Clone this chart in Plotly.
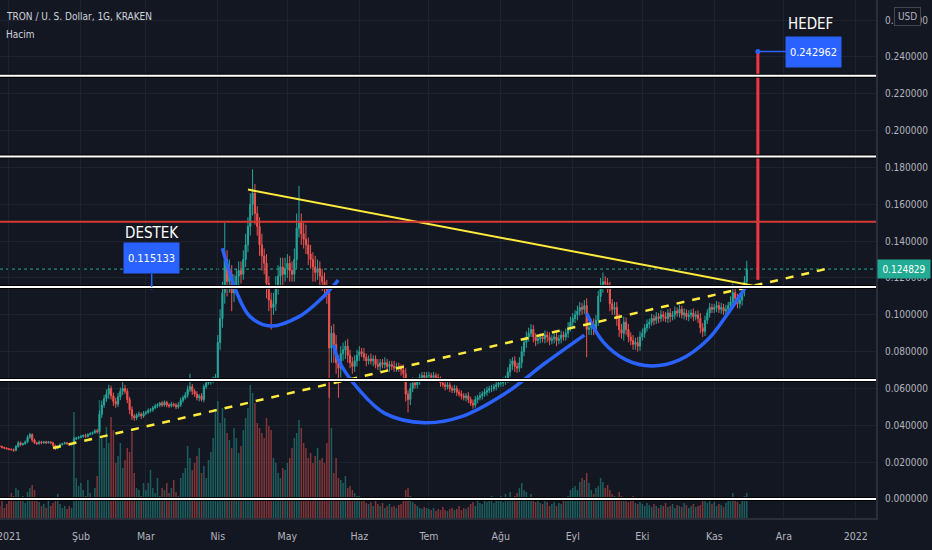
import pandas as pd
import plotly.graph_objects as go

# daily closes in thousandths of a USD, TRX/USD 2020-12-28 .. 2021-11-15
dec20_close = [28.5, 28.0, 27.6, 27.2]
jan_close = [27.0, 26.8, 26.4, 28.5, 30.5, 29.5, 30.0, 31.0, 33.5, 35.0, 32.0, 30.5, 30.0, 31.0, 30.5, 31.0,
             30.5, 31.0, 30.5, 29.0, 27.5, 28.5, 29.5, 30.0, 30.5, 30.0, 29.5, 30.0, 32.5, 33.0, 33.5]
feb_close = [34.0, 34.5, 34.0, 35.0, 35.5, 36.0, 37.0, 36.5, 46.0, 51.0, 54.5, 57.0, 60.0, 56.0, 53.0, 51.5,
             55.5, 58.5, 60.0, 58.5, 54.0, 48.5, 45.0, 44.0, 45.5, 46.0, 45.0, 46.5]
mar_close = [47.0, 48.0, 48.5, 49.5, 50.5, 51.0, 52.0, 51.0, 52.5, 51.0, 50.5, 51.5, 51.0, 50.0, 51.0, 53.5,
             55.0, 56.5, 59.5, 61.0, 58.5, 57.0, 55.0, 56.0, 54.0, 61.0, 63.0, 63.5, 64.0, 65.0, 66.0]
apr_close = [85, 98, 112, 130, 118, 122, 112, 116, 121, 124, 122, 130, 138, 148, 160, 166, 155, 148, 138, 132,
             128, 117, 108, 104, 106, 116, 121, 126, 122, 125]
may_close = [128, 124, 122, 130, 147, 150, 144, 141, 138, 133, 130, 126, 123, 125, 121, 118, 115, 112, 82, 90,
             84, 74, 71, 79, 81, 83, 78, 74, 72, 75, 78]
jun_close = [80, 79, 77, 75, 76, 75, 76, 73, 72, 74, 73, 74, 72, 73, 72, 71, 72, 71, 70, 68, 57, 54, 60, 63,
             62, 64, 66, 67, 66, 67]
jul_close = [67, 66, 67, 66, 65, 63, 62, 61, 62, 60, 59, 60, 58, 57, 56, 55, 56, 54, 52, 51, 54, 55, 56, 57,
             58, 59, 60, 60, 61, 62, 63]
aug_close = [63, 64, 65, 69, 73, 75, 72, 71, 74, 80, 85, 88, 90, 92, 88, 86, 87, 88, 87, 89, 88, 86, 87, 88,
             86, 87, 89, 88, 90, 93, 96]
sep_close = [98, 100, 102, 104, 103, 105, 92, 93, 95, 92, 97, 110, 116, 118, 117, 115, 106, 103, 104, 98, 92,
             90, 96, 92, 88, 86, 84, 85, 83, 88]
oct_close = [90, 93, 95, 96, 98, 97, 99, 98, 100, 99, 98, 101, 99, 100, 102, 101, 103, 100, 101, 99, 100, 101,
             99, 100, 98, 93, 91, 97, 101, 104, 103]
nov_close = [104, 105, 103, 104, 102, 103, 105, 107, 112, 109, 106, 108, 113, 118, 124.829]
first_open = 28.8

# upper / lower wick lengths (thousandths)
dec20_up = [0.6, 0.5, 0.4, 0.5]
dec20_dn = [0.5, 0.6, 0.5, 0.4]
jan_up = [0.5, 0.4, 0.6, 0.8, 1.0, 0.7, 0.6, 0.8, 1.2, 1.0, 0.6, 0.8, 0.5, 0.7, 0.6, 0.5, 0.6, 0.5, 0.4, 0.5,
          0.6, 0.5, 0.7, 0.5, 0.6, 0.4, 0.5, 0.6, 1.2, 0.8, 0.7]
jan_dn = [0.5, 0.6, 0.8, 0.5, 0.6, 0.9, 0.5, 0.6, 0.7, 0.8, 1.2, 0.7, 0.6, 0.5, 0.8, 0.5, 0.6, 0.5, 0.7, 0.8,
          0.9, 0.5, 0.6, 0.5, 0.4, 0.6, 0.7, 0.5, 0.6, 0.5, 0.6]
feb_up = [0.8, 0.6, 0.9, 0.7, 0.8, 0.6, 0.9, 1.0, 2.0, 2.5, 2.0, 2.5, 2.0, 1.5, 1.8, 2.0, 2.0, 2.0, 4.0, 2.0,
          1.5, 1.5, 1.8, 1.2, 1.0, 1.5, 1.0, 1.2]
feb_dn = [0.6, 0.7, 0.8, 0.6, 0.5, 0.7, 0.6, 0.9, 1.0, 2.0, 1.5, 1.8, 2.5, 2.0, 2.5, 2.0, 1.5, 1.8, 2.0, 1.5,
          2.0, 2.5, 2.0, 1.5, 1.2, 1.0, 1.5, 1.0]
mar_up = [1.0, 1.2, 0.8, 1.0, 1.2, 1.0, 0.8, 1.2, 1.0, 0.8, 1.0, 1.2, 0.8, 1.0, 1.5, 1.5, 1.2, 1.5, 2.0, 7.0,
          1.5, 1.2, 1.5, 1.0, 1.5, 1.2, 1.0, 1.5, 1.2, 1.5, 2.0]
mar_dn = [1.0, 0.8, 1.0, 1.2, 0.8, 1.0, 1.2, 1.0, 0.8, 1.2, 1.0, 0.8, 1.0, 1.2, 1.0, 1.0, 1.2, 1.0, 1.5, 1.5,
          2.0, 1.5, 1.5, 2.0, 1.0, 1.5, 1.2, 1.0, 1.5, 1.2, 1.0]
apr_up = [4, 5, 6, 20, 5, 8, 5, 6, 4, 5, 5, 5, 6, 5, 6, 13, 5, 4, 5, 6, 4, 5, 4, 4, 6, 5, 6, 5, 5, 6]
apr_dn = [2, 4, 5, 6, 8, 6, 10, 5, 4, 5, 5, 3, 4, 4, 5, 6, 6, 5, 6, 8, 6, 8, 6, 12, 4, 4, 5, 5, 6, 4]
may_up = [5, 4, 5, 6, 8, 20, 5, 6, 8, 4, 5, 4, 6, 5, 4, 4, 5, 4, 3, 4, 5, 5, 4, 4, 4, 3, 4, 3, 3, 3, 3]
may_dn = [5, 6, 4, 4, 5, 5, 6, 5, 5, 6, 5, 8, 5, 4, 6, 5, 4, 6, 27, 8, 10, 6, 16, 5, 4, 5, 4, 3, 4, 3, 3]
jun_up = [3, 2, 3, 2, 2, 3, 2, 2, 3, 2, 2, 3, 2, 2, 2, 3, 2, 2, 2, 3, 3, 2, 3, 3, 2, 2, 2, 2, 2, 2]
jun_dn = [3, 2, 2, 3, 2, 2, 3, 2, 2, 3, 2, 2, 2, 3, 2, 2, 2, 2, 3, 4, 4, 7, 3, 2, 2, 2, 2, 2, 2, 2]
jul_up = [2, 1.5, 2, 1.5, 2, 1.5, 2, 1.5, 2, 1.5, 1.5, 2, 1.5, 1.5, 2, 1.5, 1.5, 2, 1.5, 2, 2, 1.5, 2, 1.5,
          2, 2, 1.5, 2, 1.5, 2, 2]
jul_dn = [1.5, 2, 1.5, 2, 1.5, 2, 1.5, 2, 1.5, 2, 1.5, 1.5, 2, 1.5, 2, 1.5, 2, 2, 1.5, 2, 1.5, 2, 1.5, 2,
          1.5, 2, 1.5, 2, 1.5, 2, 1.5]
aug_up = [2, 2, 2, 2.5, 3, 2, 2.5, 2, 3, 3, 2.5, 3, 3, 3, 2.5, 2, 2.5, 2, 2, 2.5, 2, 2.5, 2, 2, 2.5, 2, 2.5,
          2, 2.5, 3, 3]
aug_dn = [2, 2, 2, 2, 2.5, 3, 3, 2.5, 2, 3, 2.5, 3, 2.5, 2, 3, 3, 2, 2.5, 2, 2.5, 3, 2.5, 2, 2.5, 3, 2, 2.5,
          2, 2, 2.5, 2]
sep_up = [3, 2.5, 3, 3, 2.5, 3, 4, 3, 2.5, 3, 3, 3, 4, 5, 3, 3, 3, 2.5, 3, 3, 2.5, 3, 3, 2.5, 3, 2.5, 3, 2.5,
          3, 3]
sep_dn = [3, 2.5, 3, 2.5, 3, 2.5, 15, 3, 4, 3, 2.5, 3, 3, 4, 3, 3, 4, 3, 3, 4, 4, 3, 4, 3, 3, 2.5, 3, 3, 3,
          2.5]
oct_up = [2.5, 2, 2.5, 2, 2.5, 2, 2.5, 2, 2.5, 2, 2.5, 2, 2.5, 2, 2.5, 2, 2.5, 2, 2.5, 2, 2.5, 2, 2.5, 2,
          2.5, 3, 2.5, 2.5, 2, 2.5, 2]
oct_dn = [2, 2.5, 2, 2.5, 2, 2.5, 2, 2.5, 2, 2.5, 2, 2.5, 3, 2, 2.5, 2, 2.5, 2, 2.5, 2, 2.5, 2, 2.5, 2, 2.5,
          3, 3, 2.5, 2, 2.5, 2]
nov_up = [2, 2.5, 2, 2.5, 2, 2.5, 2, 3, 5, 3, 2.5, 3, 3, 3, 4.5]
nov_dn = [2, 2.5, 2, 2.5, 2, 2.5, 2, 2.5, 3, 3, 2.5, 2.5, 3, 3, 3]

# volume (relative units)
dec20_vol = [12, 18, 10, 14]
jan_vol = [20, 25, 22, 30, 28, 18, 22, 15, 26, 30, 33, 28, 20, 16, 12, 14, 10, 18, 12, 15, 20, 24, 14, 10,
           12, 9, 12, 10, 106, 40, 32]
feb_vol = [35, 28, 22, 38, 25, 20, 30, 42, 118, 80, 70, 91, 75, 101, 88, 55, 62, 75, 50, 58, 70, 66, 86, 45,
           30, 28, 22, 35]
mar_vol = [28, 35, 48, 30, 25, 40, 22, 30, 28, 35, 25, 30, 38, 26, 22, 40, 45, 50, 72, 60, 48, 55, 62, 70,
           45, 52, 40, 58, 66, 80, 108]
apr_vol = [117, 95, 110, 100, 85, 78, 70, 90, 80, 65, 72, 88, 100, 110, 133, 125, 115, 95, 90, 85, 80, 100,
           92, 88, 60, 55, 45, 40, 50, 48]
may_vol = [55, 60, 70, 80, 85, 98, 90, 75, 70, 60, 65, 55, 62, 70, 58, 60, 55, 75, 140, 90, 45, 60, 40, 38,
           35, 42, 30, 32, 28, 25, 22]
jun_vol = [22, 18, 20, 15, 14, 16, 12, 18, 14, 12, 15, 10, 12, 14, 11, 12, 10, 13, 14, 18, 28, 30, 22, 16,
           14, 12, 10, 9, 11, 10]
jul_vol = [9, 8, 10, 7, 9, 8, 11, 8, 7, 9, 10, 8, 9, 12, 8, 10, 9, 11, 14, 16, 12, 18, 15, 14, 20, 16, 18,
           22, 15, 20, 18]
aug_vol = [22, 16, 24, 20, 26, 18, 22, 25, 30, 35, 28, 26, 20, 24, 18, 16, 20, 15, 14, 18, 16, 12, 14, 16,
           12, 15, 14, 18, 20, 22, 28]
sep_vol = [30, 32, 28, 36, 40, 38, 45, 35, 28, 24, 30, 32, 40, 36, 30, 33, 28, 24, 22, 20, 26, 22, 18, 20,
           16, 18, 22, 15, 14, 16]
oct_vol = [14, 12, 15, 13, 11, 14, 12, 10, 13, 12, 15, 11, 12, 14, 10, 13, 12, 11, 15, 13, 10, 12, 14, 11,
           12, 13, 18, 20, 15, 17, 14]
nov_vol = [16, 12, 14, 13, 11, 15, 18, 20, 25, 18, 16, 14, 20, 22, 25]

# drawn levels and lines
white_levels = [0.2298, 0.186, 0.115133, 0.0646, 0.0]
red_level = 0.1505
last_price = 0.124829
resist_x = ["2021-04-14", "2021-11-23"]
resist_y = [0.168, 0.1146]
support_x = ["2021-01-20", "2021-12-21"]
support_y = [0.0277, 0.1254]
arc1_x = ["2021-04-03", "2021-04-09", "2021-04-14 22:00", "2021-04-24", "2021-05-06", "2021-05-15", "2021-05-22 22:00"]
arc1_y = [0.1361, 0.1125, 0.0990, 0.0939, 0.0990, 0.1080, 0.1189]
arc2_x = ["2021-05-21", "2021-05-23", "2021-06-01", "2021-06-12", "2021-06-29", "2021-07-15", "2021-08-03",
          "2021-08-20", "2021-09-06"]
arc2_y = [0.0836, 0.0755, 0.0591, 0.0465, 0.0414, 0.0447, 0.0574, 0.0737, 0.0890]
arc3_x = ["2021-09-07", "2021-09-14", "2021-09-24", "2021-10-05", "2021-10-17", "2021-10-29", "2021-11-07",
          "2021-11-15"]
arc3_y = [0.1008, 0.0854, 0.0755, 0.0722, 0.0755, 0.0863, 0.1010, 0.1162]
target_x = "2021-11-19 19:00"
target_low = 0.119
target_price = 0.242962
support_label_x = "2021-03-03 12:00"
support_price = 0.115133

month_ticks = ["2021-01-01", "2021-02-01", "2021-03-01", "2021-04-01", "2021-05-01", "2021-06-01", "2021-07-01",
               "2021-08-01", "2021-09-01", "2021-10-01", "2021-11-01", "2021-12-01", "2022-01-01"]
month_labels = ["2021", "Şub", "Mar", "Nis", "May", "Haz", "Tem", "Ağu", "Eyl", "Eki", "Kas", "Ara", "2022"]
price_ticks = [i * 0.02 for i in range(14)]

BG = '#131722'
GRID = '#1e222d'
TXT = '#b2b5be'
UP = '#26a69a'
DOWN = '#ef5350'
BLUE = '#2962ff'
FONT = 'DejaVu Sans Condensed, DejaVu Sans, sans-serif'

closes = (dec20_close + jan_close + feb_close + mar_close + apr_close + may_close + jun_close + jul_close
          + aug_close + sep_close + oct_close + nov_close)
ups = dec20_up + jan_up + feb_up + mar_up + apr_up + may_up + jun_up + jul_up + aug_up + sep_up + oct_up + nov_up
dns = dec20_dn + jan_dn + feb_dn + mar_dn + apr_dn + may_dn + jun_dn + jul_dn + aug_dn + sep_dn + oct_dn + nov_dn
vols = (dec20_vol + jan_vol + feb_vol + mar_vol + apr_vol + may_vol + jun_vol + jul_vol + aug_vol + sep_vol
        + oct_vol + nov_vol)

dates = pd.date_range("2020-12-28", periods=len(closes), freq="D")
opens = [first_open] + closes[:-1]
o = [v / 1000 for v in opens]
c = [v / 1000 for v in closes]
h = [(max(a, b) + u) / 1000 for a, b, u in zip(opens, closes, ups)]
l = [(min(a, b) - d) / 1000 for a, b, d in zip(opens, closes, dns)]
volColors = ['rgba(38,166,154,0.5)' if cc >= oo else 'rgba(239,83,80,0.5)' for oo, cc in zip(opens, closes)]

traces = []
traces.append(go.Bar(x=dates, y=vols, marker=dict(color=volColors, line=dict(width=0)),
                     yaxis='y', hoverinfo='skip', showlegend=False))
traces.append(go.Candlestick(x=dates, open=o, high=h, low=l, close=c, yaxis='y2',
                             increasing=dict(line=dict(color=UP, width=1), fillcolor=UP),
                             decreasing=dict(line=dict(color=DOWN, width=1), fillcolor=DOWN),
                             hoverinfo='skip', showlegend=False))
for ax, ay in [(arc1_x, arc1_y), (arc2_x, arc2_y), (arc3_x, arc3_y)]:
    traces.append(go.Scatter(x=ax, y=ay, mode='lines', line=dict(color=BLUE, width=3.5, shape='spline'),
                             yaxis='y2', hoverinfo='skip', showlegend=False))
traces.append(go.Scatter(x=resist_x, y=resist_y, mode='lines', line=dict(color='#ffeb3b', width=2),
                         yaxis='y2', hoverinfo='skip', showlegend=False))
traces.append(go.Scatter(x=support_x, y=support_y, mode='lines',
                         line=dict(color='#ffeb3b', width=2.5, dash='8px,8px'),
                         yaxis='y2', hoverinfo='skip', showlegend=False))
traces.append(go.Scatter(x=[target_x, target_x], y=[target_low, target_price], mode='lines',
                         line=dict(color='#f23645', width=3), yaxis='y2', hoverinfo='skip', showlegend=False))
traces.append(go.Scatter(x=[support_label_x, target_x], y=[support_price, target_price], mode='markers',
                         marker=dict(color=BLUE, size=5), yaxis='y2', hoverinfo='skip', showlegend=False))

shapes = []
for lv in white_levels:
    shapes.append(dict(type='line', xref='paper', x0=0, x1=1, yref='y2', y0=lv, y1=lv,
                       line=dict(color='black', width=4), layer='above'))
    shapes.append(dict(type='line', xref='paper', x0=0, x1=1, yref='y2', y0=lv, y1=lv,
                       line=dict(color='white', width=2), layer='above'))
shapes.append(dict(type='line', xref='paper', x0=0, x1=1, yref='y2', y0=red_level, y1=red_level,
                   line=dict(color='#d63a34', width=2), layer='above'))
shapes.append(dict(type='line', xref='paper', x0=0, x1=1, yref='y2', y0=last_price, y1=last_price,
                   line=dict(color=UP, width=1, dash='dot'), layer='below'))

annotations = [
    dict(text='TRON / U. S. Dollar, 1G, KRAKEN', xref='paper', yref='paper', x=0, y=1, xanchor='left',
         yanchor='top', xshift=4, yshift=-9, showarrow=False, font=dict(color='#d1d4dc', size=10, family=FONT)),
    dict(text='Hacim', xref='paper', yref='paper', x=0, y=1, xanchor='left', yanchor='top', xshift=4,
         yshift=-27, showarrow=False, font=dict(color='#d1d4dc', size=10, family=FONT)),
    dict(text='DESTEK', x=support_label_x, y=support_price, yref='y2', yshift=54, showarrow=False,
         font=dict(color='white', size=15, family=FONT)),
    dict(text='0.115133', x=support_label_x, y=support_price, yref='y2', showarrow=True, ax=0, ay=-29,
         arrowhead=0, arrowcolor=BLUE, arrowwidth=1.5, bgcolor=BLUE, borderpad=3, width=49, height=24,
         font=dict(color='white', size=11, family=FONT)),
    dict(text='HEDEF', x=target_x, y=target_price, yref='y2', xshift=53, yshift=28, showarrow=False,
         font=dict(color='white', size=15, family=FONT)),
    dict(text='0.242962', x=target_x, y=target_price, yref='y2', showarrow=True, ax=56, ay=0,
         arrowhead=0, arrowcolor=BLUE, arrowwidth=1.5, bgcolor=BLUE, borderpad=3, width=49, height=24,
         font=dict(color='white', size=11, family=FONT)),
    dict(text='0.124829', xref='paper', x=1, xanchor='left', yref='y2', y=last_price, showarrow=False,
         bgcolor='#22ab94', borderpad=2, width=48, height=14, xshift=1,
         font=dict(color='white', size=10, family=FONT)),
    dict(text='USD', xref='paper', x=1, xanchor='left', yref='paper', y=1, yanchor='top', xshift=18,
         yshift=-7, showarrow=False, bgcolor=BG, bordercolor='#434651', borderwidth=1, borderpad=3,
         font=dict(color=TXT, size=10, family=FONT)),
]

layout = go.Layout(
    width=932, height=550,
    margin=dict(l=0, r=56, t=0, b=32),
    paper_bgcolor=BG, plot_bgcolor=BG,
    bargap=0.35,
    showlegend=False,
    xaxis=dict(type='date', range=['2020-12-28 03:00', '2022-01-09 17:00'], rangeslider=dict(visible=False),
               tickvals=month_ticks, ticktext=month_labels, showgrid=True, gridcolor=GRID, zeroline=False,
               showline=True, linecolor='#2a2e39', linewidth=2, ticks='outside', ticklen=7, tickcolor=BG,
               automargin=False, ticklabeloverflow='allow',
               tickfont=dict(color=TXT, size=10.5, family=FONT)),
    yaxis=dict(range=[0, 518], visible=False, showgrid=False, fixedrange=True, automargin=False),
    yaxis2=dict(overlaying='y', side='right', range=[-0.01032, 0.27094], tickvals=price_ticks,
                tickformat='.6f', showgrid=True, gridcolor=GRID, zeroline=False, showline=True,
                linecolor='#2a2e39', linewidth=2, ticks='outside', ticklen=5, tickcolor=BG,
                automargin=False, ticklabeloverflow='allow',
                tickfont=dict(color=TXT, size=10, family=FONT)),
    shapes=shapes,
    annotations=annotations,
)

fig = go.Figure(data=traces, layout=layout)
# the page body has a default 8px margin; drop it so the chart fills the window
fig.write_html("out.html", config={'displayModeBar': False},
               post_script="document.body.style.margin='0';")
